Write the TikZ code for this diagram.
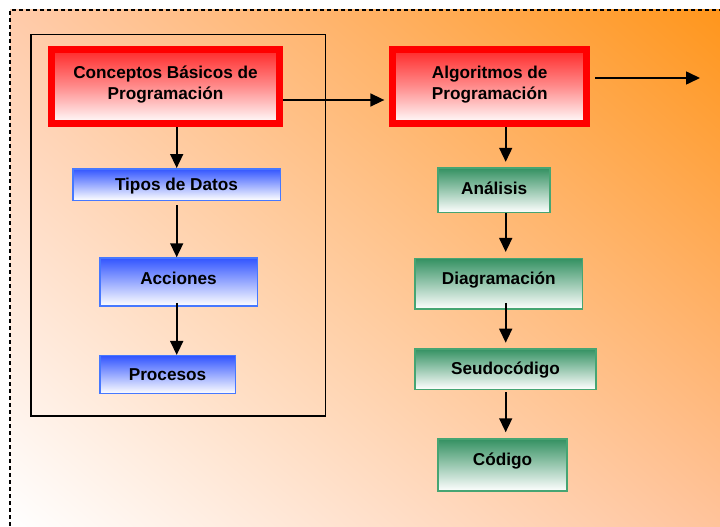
\documentclass[tikz,border=0pt]{standalone}
\usepackage{fontspec}
\setmainfont{Liberation Sans}
\usetikzlibrary{arrows.meta,shadings}
\definecolor{bgorange}{RGB}{255,150,28}
\definecolor{bgpeach}{RGB}{255,203,170}
\definecolor{bglight}{RGB}{255,195,155}
\definecolor{redtop}{RGB}{255,40,40}
\definecolor{bluetop}{RGB}{50,85,255}
\definecolor{blueline}{RGB}{70,120,255}
\definecolor{greentop}{RGB}{52,145,98}
\definecolor{greenline}{RGB}{70,165,115}
\tikzset{
  lbl/.style={font=\fontsize{17.2}{21}\selectfont\bfseries, text=black,
    inner sep=0pt, text height=12.3pt, text depth=0pt, align=center},
  mainbox/.style={lbl, draw=red, line width=7pt, top color=redtop, bottom color=white,
    middle color=red!45!white, minimum height=74pt, text height=33.3pt, text depth=8pt},
  bluebox/.style={lbl, draw=blueline, line width=1.5pt, top color=bluetop, bottom color=white},
  greenbox/.style={lbl, draw=greenline, line width=1.5pt, top color=greentop, bottom color=white},
  arr/.style={line width=1.6pt, -{Triangle[width=13pt,length=14pt]}},
}
\begin{document}
\begin{tikzpicture}[x=1pt,y=-1pt]
\useasboundingbox (0,0) rectangle (720,527);
% background gradient and dashed frame
\fill[white] (0,0) rectangle (720,527);
\shade[upper left=bgpeach, upper right=bgorange, lower left=white, lower right=bglight]
  (10,10) rectangle (720,527);
\draw[line width=1.1pt, dash pattern=on 4pt off 3pt] (730,10) -- (10,10) -- (10,540);
% frame of the basic concepts group
\draw[line width=1.5pt] (30.75,34.5) rectangle (325.5,416);

% left column
\node[mainbox, minimum width=228pt] (con) at (165.5,86.5)
  {Conceptos Básicos de\\Programación};
\node[bluebox, minimum width=207.5pt, minimum height=31.5pt, text depth=-3pt] (tip) at (176.5,184.5) {Tipos de Datos};
\node[bluebox, minimum width=157.5pt, minimum height=48pt, text depth=8pt] (acc) at (178.5,282) {Acciones};
\node[bluebox, minimum width=135.5pt, minimum height=38pt] (pro) at (167.5,374.7) {Procesos};

% right column
\node[mainbox, minimum width=193.7pt] (alg) at (489.7,86.5)
  {Algoritmos de\\Programación};
\node[greenbox, minimum width=112pt, minimum height=44.5pt, text depth=4pt] (ana) at (494.2,190.3) {Análisis};
\node[greenbox, minimum width=167.5pt, minimum height=50.8pt, text depth=11pt] (dia) at (498.8,283.8) {Diagramación};
\node[greenbox, minimum width=181pt, minimum height=40.5pt, text depth=1pt] (seu) at (505.5,369) {Seudocódigo};
\node[greenbox, minimum width=129pt, minimum height=52pt, text depth=12pt] (cod) at (502.5,465) {Código};

% connectors
\coordinate (lx) at (176.7,0);
\coordinate (rx) at (505.7,0);
\coordinate (out) at (700,78);
\draw[arr] (lx |- con.south) -- (lx |- tip.north);
\draw[arr, shorten <=4pt] (lx |- tip.south) -- (lx |- acc.north);
\draw[arr, shorten <=-4pt] (lx |- acc.south) -- (lx |- pro.north);
\draw[arr, shorten >=5pt] ([yshift=-13.5pt]con.east) -- ([yshift=-13.5pt]alg.west);
\draw[arr, shorten <=5pt] (alg.east |- out) -- (out);
\draw[arr, shorten >=5.5pt] (rx |- alg.south) -- (rx |- ana.north);
\draw[arr, shorten >=5.7pt] (rx |- ana.south) -- (rx |- dia.north);
\draw[arr, shorten <=-7pt, shorten >=5.3pt] (rx |- dia.south) -- (rx |- seu.north);
\draw[arr, shorten <=2pt, shorten >=6pt] (rx |- seu.south) -- (rx |- cod.north);
\end{tikzpicture}
\end{document}
